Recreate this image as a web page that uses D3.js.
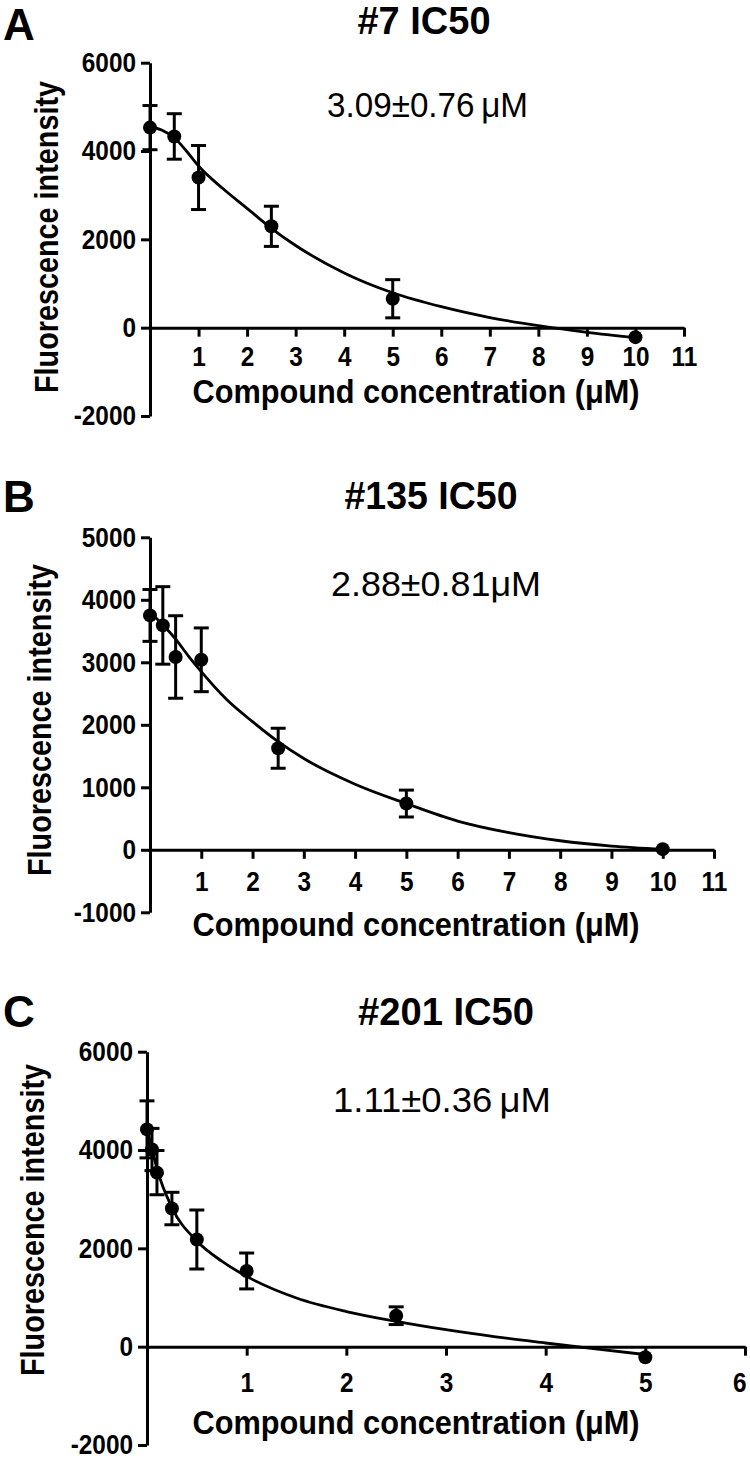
<!DOCTYPE html>
<html><head><meta charset="utf-8">
<script src="https://cdn.jsdelivr.net/npm/d3@7"></script>
<style>
html,body{margin:0;padding:0;background:#fff;}
svg{display:block;}
text{font-family:"Liberation Sans",Arial,sans-serif;fill:#000;}
</style></head>
<body>
<script>
// ---------- data ----------
const concA = [0, 0.5, 1, 2.5, 5, 10];
const meanA = [4530, 4330, 3400, 2295, 655, -215];
const semA  = [500, 515, 725, 455, 432, 0];
const curveXA = [0, 0.25, 0.5, 0.75, 1, 1.5, 2, 2.5, 3, 4, 5, 6, 7, 8, 9, 10];
const curveYA = [4560, 4470, 4300, 4000, 3660, 3150, 2700, 2250, 1860, 1240, 790, 475, 230, 45, -105, -225];

const concB = [0, 0.25, 0.5, 1, 2.5, 5, 10];
const meanB = [3750, 3590, 3085, 3040, 1625, 740, 10];
const semB  = [415, 620, 660, 510, 320, 215, 0];
const curveXB = [0, 0.25, 0.5, 0.75, 1, 1.5, 2, 2.5, 3, 4, 5, 6, 7, 8, 9, 10];
const curveYB = [3800, 3600, 3370, 3100, 2850, 2400, 2050, 1730, 1460, 1050, 740, 460, 275, 145, 60, 10];

const concC = [0, 0.05, 0.1, 0.25, 0.5, 1, 2.5, 5];
const meanC = [4420, 4010, 3540, 2810, 2180, 1540, 630, -215];
const semC  = [580, 430, 450, 330, 600, 365, 180, 0];
const curveXC = [0, 0.05, 0.1, 0.25, 0.5, 0.75, 1, 1.5, 2, 2.5, 3, 3.5, 4, 4.5, 5];
const curveYC = [4450, 4030, 3620, 2830, 2150, 1740, 1430, 990, 715, 515, 345, 200, 75, -45, -160];

const yTicksA = [-2000, 0, 2000, 4000, 6000];
const yTicksB = [-1000, 0, 1000, 2000, 3000, 4000, 5000];
const yTicksC = [-2000, 0, 2000, 4000, 6000];
const xTicksA = [1, 2, 3, 4, 5, 6, 7, 8, 9, 10, 11];
const xTicksB = [1, 2, 3, 4, 5, 6, 7, 8, 9, 10, 11];
const xTicksC = [1, 2, 3, 4, 5, 6];

const letters = ["A", "B", "C"];
const titles = ["#7 IC50", "#135 IC50", "#201 IC50"];
const ic50Texts = ["3.09±0.76\u2009μM", "2.88±0.81μM", "1.11±0.36\u2009μM"];
const xTitle = "Compound concentration (μM)";
const yTitle = "Fluorescence intensity";

// ---------- layout ----------
const W = 750, H = 1460;
const svg = d3.select("body").append("svg").attr("width", W).attr("height", H);
const fmt = d => String(d); // plain hyphen-minus like the original
const SQ = 0.87;            // condensed look of the original lettering

function squeeze(sel, k) {
  sel.each(function() {
    const n = this, L = n.getComputedTextLength();
    d3.select(n).attr("textLength", L * k).attr("lengthAdjust", "spacingAndGlyphs");
  });
}

const panels = [
  {conc: concA, mean: meanA, sem: semA, cx: curveXA, cy: curveYA, yTicks: yTicksA, xTicks: xTicksA,
   xDom: [0, 11], xR: [150, 684], yDom: [-2000, 6000], yR: [416, 62.7],
   letterY: 40, titleX: 424, titleY: 34, titleW: 133, annX: 327, annY: 117, annW: 201,
   xLabY: 366, xTitleY: 403, yTitleX: 58, yTitleY: 237},
  {conc: concB, mean: meanB, sem: semB, cx: curveXB, cy: curveYB, yTicks: yTicksB, xTicks: xTicksB,
   xDom: [0, 11], xR: [150, 714], yDom: [-1000, 5000], yR: [912.3, 537.3],
   letterY: 512, titleX: 431, titleY: 509, titleW: 173, annX: 331, annY: 596, annW: 210,
   xLabY: 891, xTitleY: 936, yTitleX: 51, yTitleY: 720},
  {conc: concC, mean: meanC, sem: semC, cx: curveXC, cy: curveYC, yTicks: yTicksC, xTicks: xTicksC,
   xDom: [0, 6], xR: [147, 745], yDom: [-2000, 6000], yR: [1445, 1051.7],
   letterY: 1027, titleX: 446, titleY: 1025, titleW: 176, annX: 333, annY: 1112, annW: 218,
   xLabY: 1392, xTitleY: 1434, yTitleX: 44, yTitleY: 1220}
];

panels.forEach((p, i) => {
  const g = svg.append("g");
  const x = d3.scaleLinear().domain(p.xDom).range(p.xR);
  const y = d3.scaleLinear().domain(p.yDom).range(p.yR);
  const y0 = y(0);

  // letter + title + IC50 annotation
  g.append("text").attr("x", 3).attr("y", p.letterY).attr("font-size", 44).attr("font-weight", "bold").text(letters[i]);
  g.append("text").attr("x", p.titleX).attr("y", p.titleY).attr("text-anchor", "middle")
    .attr("font-size", 38).attr("font-weight", "bold")
    .attr("textLength", p.titleW).attr("lengthAdjust", "spacingAndGlyphs").text(titles[i]);
  g.append("text").attr("x", p.annX).attr("y", p.annY).attr("font-size", 35)
    .attr("textLength", p.annW).attr("lengthAdjust", "spacingAndGlyphs").text(ic50Texts[i]);

  // y axis
  const ya = g.append("g").attr("transform", `translate(${p.xR[0]},0)`)
    .call(d3.axisLeft(y).tickValues(p.yTicks).tickSize(9).tickSizeOuter(0).tickPadding(5).tickFormat(fmt));
  ya.select(".domain").attr("stroke", "#000").attr("stroke-width", 3);
  ya.selectAll(".tick line").attr("stroke", "#000").attr("stroke-width", 3);
  ya.selectAll(".tick text").attr("font-size", 28).attr("font-weight", "bold").attr("font-family", null);
  squeeze(ya.selectAll(".tick text"), SQ);

  // x axis at y = 0
  const xa = g.append("g").attr("transform", `translate(0,${y0})`)
    .call(d3.axisBottom(x).tickValues(p.xTicks).tickSize(9).tickSizeOuter(0).tickFormat(fmt));
  xa.select(".domain").attr("stroke", "#000").attr("stroke-width", 3);
  xa.selectAll(".tick line").attr("stroke", "#000").attr("stroke-width", 3);
  xa.selectAll(".tick text").attr("font-size", 28).attr("font-weight", "bold").attr("font-family", null)
    .attr("y", p.xLabY - y0).attr("dy", 0);
  squeeze(xa.selectAll(".tick text"), SQ);
  // keep a label that would run past the right edge inside the picture
  xa.selectAll(".tick").each(function(d) {
    const t = d3.select(this).select("text");
    const right = x(d) + (+t.attr("textLength")) / 2;
    if (right > W - 4) t.attr("text-anchor", "end").attr("x", W - 4 - x(d));
  });

  // axis titles
  g.append("text").attr("x", 416).attr("y", p.xTitleY).attr("text-anchor", "middle")
    .attr("font-size", 34).attr("font-weight", "bold")
    .attr("textLength", 447).attr("lengthAdjust", "spacingAndGlyphs").text(xTitle);
  g.append("text").attr("transform", `translate(${p.yTitleX},${p.yTitleY}) rotate(-90)`)
    .attr("text-anchor", "middle").attr("font-size", 33).attr("font-weight", "bold")
    .attr("textLength", 312).attr("lengthAdjust", "spacingAndGlyphs").text(yTitle);

  // fitted curve
  const cdata = p.cx.map((v, k) => [v, p.cy[k]]);
  g.append("path").datum(cdata)
    .attr("d", d3.line().x(d => x(d[0])).y(d => y(d[1])).curve(d3.curveMonotoneX))
    .attr("fill", "none").attr("stroke", "#000").attr("stroke-width", 2.8);

  // error bars + points
  const pts = p.conc.map((c, k) => ({c, m: p.mean[k], s: p.sem[k]}));
  const eb = g.append("g").attr("stroke", "#000").attr("stroke-width", 3);
  pts.filter(d => d.s > 0).forEach(d => {
    eb.append("line").attr("x1", x(d.c)).attr("x2", x(d.c)).attr("y1", y(d.m - d.s)).attr("y2", y(d.m + d.s));
    eb.append("line").attr("x1", x(d.c) - 7.5).attr("x2", x(d.c) + 7.5).attr("y1", y(d.m + d.s)).attr("y2", y(d.m + d.s));
    eb.append("line").attr("x1", x(d.c) - 7.5).attr("x2", x(d.c) + 7.5).attr("y1", y(d.m - d.s)).attr("y2", y(d.m - d.s));
  });
  g.append("g").selectAll("circle").data(pts).join("circle")
    .attr("cx", d => x(d.c)).attr("cy", d => y(d.m)).attr("r", 7).attr("fill", "#000");
});
</script>
</body></html>
